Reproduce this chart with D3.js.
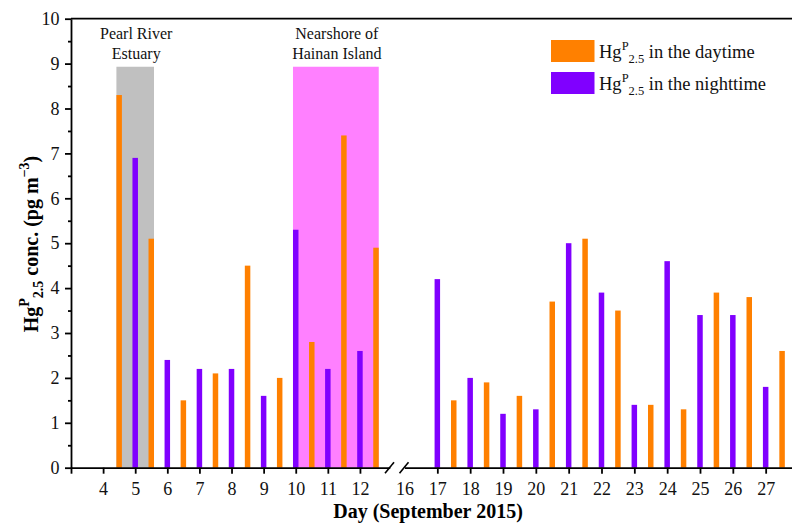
<!DOCTYPE html>
<html>
<head>
<meta charset="utf-8">
<script src="https://cdn.jsdelivr.net/npm/d3@7"></script>
<style>
  body { margin: 0; background: #fff; }
  svg { display: block; }
  svg text { font-family: "Liberation Serif", "Times New Roman", Times, serif; }
  .axis path, .axis line { stroke: #000; stroke-width: 1.8; }
  .axis text { font-size: 18px; fill: #111; }
</style>
</head>
<body>
<script>
'use strict';

// daytime samples sit half way through each day
const dayTimes = [4.5, 5.5, 6.5, 7.5, 8.5, 9.5, 10.5, 11.5, 12.5,
  17.5, 18.5, 19.5, 20.5, 21.5, 22.5, 23.5, 24.5, 25.5, 26.5, 27.5];
const dayValues = [8.3, 5.1, 1.5, 2.1, 4.5, 2.0, 2.8, 7.4, 4.9,
  1.5, 1.9, 1.6, 3.7, 5.1, 3.5, 1.4, 1.3, 3.9, 3.8, 2.6];

// nighttime samples
const nightTimes = [5, 6, 7, 8, 9, 10, 11, 12,
  17, 18, 19, 20, 21, 22, 23, 24, 25, 26, 27];
const nightValues = [6.9, 2.4, 2.2, 2.2, 1.6, 5.3, 2.2, 2.6,
  4.2, 2.0, 1.2, 1.3, 5.0, 3.9, 1.4, 4.6, 3.4, 3.4, 1.8];

// shaded cruise regions
const regionStarts = [4.5, 10];
const regionEnds = [5.5, 12.5];
const regionTop = 8.93;
const regionColors = ["#c0c0c0", "#ff80ff"];
const regionLabels = [["Pearl River", "Estuary"], ["Nearshore of", "Hainan Island"]];

// tick labels
const leftTicks = [3, 4, 5, 6, 7, 8, 9, 10, 11, 12];
const rightTicks = [16, 17, 18, 19, 20, 21, 22, 23, 24, 25, 26, 27];
const yTicks = [0, 1, 2, 3, 4, 5, 6, 7, 8, 9, 10];
const yMinor = [0.5, 1.5, 2.5, 3.5, 4.5, 5.5, 6.5, 7.5, 8.5, 9.5];

const dayColor = "#ff8000";
const nightColor = "#8000ff";
const serif = '"Liberation Serif", "Times New Roman", Times, serif';

(function() {
  let svg = "";
  let barW = 5.5;

  window.onload = function() {
    svg = d3.select("body")
      .append("svg")
      .attr("width", 792)
      .attr("height", 528);

    // y scale and two x scales either side of the axis break
    let y = d3.scaleLinear().domain([0, 10]).range([467.7, 18.7]);
    let xL = d3.scaleLinear().domain([3, 12.93]).range([71, 389.8]);
    let xR = d3.scaleLinear().domain([16, 27.79]).range([404.5, 791.6]);
    let xOf = (d) => d < 14 ? xL(d) : xR(d);

    // shaded regions
    regionStarts.forEach((s, i) => {
      let x0 = xOf(s) - barW / 2;
      let x1 = xOf(regionEnds[i]) + barW / 2;
      svg.append("rect")
        .attr("x", x0)
        .attr("y", y(regionTop))
        .attr("width", x1 - x0)
        .attr("height", y(0) - y(regionTop))
        .attr("fill", regionColors[i]);

      regionLabels[i].forEach((t, j) => {
        svg.append("text")
          .attr("x", (x0 + x1) / 2 + 1)
          .attr("y", 38.5 + j * 20)
          .attr("text-anchor", "middle")
          .style("font-family", serif)
          .style("font-size", "16px")
          .attr("fill", "#111")
          .text(t);
      });
    });

    // bars
    let dayData = dayTimes.map((d, i) => ({t: d, v: dayValues[i]}));
    let nightData = nightTimes.map((d, i) => ({t: d, v: nightValues[i]}));

    svg.selectAll(".day")
      .data(dayData)
      .enter().append("rect")
        .attr("class", "day")
        .attr("x", (d) => xOf(d.t) - barW / 2)
        .attr("y", (d) => y(d.v))
        .attr("width", barW)
        .attr("height", (d) => y(0) - y(d.v))
        .attr("fill", dayColor);

    svg.selectAll(".night")
      .data(nightData)
      .enter().append("rect")
        .attr("class", "night")
        .attr("x", (d) => xOf(d.t) - barW / 2)
        .attr("y", (d) => y(d.v))
        .attr("width", barW)
        .attr("height", (d) => y(0) - y(d.v))
        .attr("fill", nightColor);

    // y axis with minor ticks
    svg.append("g")
      .attr("class", "axis")
      .attr("transform", "translate(71,0)")
      .call(d3.axisLeft(y).tickValues(yTicks).tickSize(6).tickSizeOuter(0).tickPadding(5.5));

    svg.append("g")
      .attr("class", "axis")
      .attr("transform", "translate(71,0)")
      .call(d3.axisLeft(y).tickValues(yMinor).tickSize(3).tickFormat(""))
      .select(".domain").remove();

    // top frame line
    svg.append("line")
      .attr("x1", 71).attr("x2", 792)
      .attr("y1", y(10)).attr("y2", y(10))
      .attr("stroke", "#000")
      .attr("stroke-width", 1.8);

    // x axis, left part
    svg.append("g")
      .attr("class", "axis")
      .attr("transform", "translate(0," + y(0) + ")")
      .call(d3.axisBottom(xL).tickValues(leftTicks).tickSize(6).tickSizeOuter(0).tickPadding(8.5)
        .tickFormat((d) => d === 3 ? "" : d));

    // x axis, right part (no tick under 16, it sits in the break)
    let gR = svg.append("g")
      .attr("class", "axis")
      .attr("transform", "translate(0," + y(0) + ")")
      .call(d3.axisBottom(xR).tickValues(rightTicks).tickSize(6).tickSizeOuter(0).tickPadding(8.5));
    gR.selectAll(".tick").filter((d) => d === 16).select("line").remove();

    // force the serif face on all tick labels
    svg.selectAll(".axis").attr("font-family", serif);
    svg.selectAll(".axis text").style("font-family", serif);

    // break marks
    [389.5, 404].forEach((bx) => {
      svg.append("line")
        .attr("x1", bx - 4.5).attr("y1", y(0) + 5.5)
        .attr("x2", bx + 4.5).attr("y2", y(0) - 5.5)
        .attr("stroke", "#000")
        .attr("stroke-width", 1.6);
    });
    svg.append("rect")
      .attr("x", 392.5).attr("y", y(0) - 2)
      .attr("width", 8).attr("height", 4)
      .attr("fill", "#fff");

    // axis titles
    svg.append("text")
      .attr("x", 428)
      .attr("y", 518)
      .attr("text-anchor", "middle")
      .style("font-family", serif)
      .style("font-size", "20px")
      .style("font-weight", "bold")
      .text("Day (September 2015)");

    let yl = svg.append("text")
      .attr("transform", "translate(38,244)rotate(-90)")
      .attr("text-anchor", "middle")
      .style("font-family", serif)
      .style("font-size", "20px")
      .style("font-weight", "bold");
    yl.append("tspan").text("Hg");
    yl.append("tspan").attr("dy", -9).style("font-size", "14px").text("P");
    yl.append("tspan").attr("dy", 14).style("font-size", "14px").text("2.5");
    yl.append("tspan").attr("dy", -5).text(" conc. (pg m");
    yl.append("tspan").attr("dy", -9).style("font-size", "14px").text("\u22123");
    yl.append("tspan").attr("dy", 9).text(")");

    // legend
    let legend = [
      {c: dayColor, t: " in the daytime"},
      {c: nightColor, t: " in the nighttime"}
    ];
    legend.forEach((l, i) => {
      svg.append("rect")
        .attr("x", 551)
        .attr("y", 40 + i * 32)
        .attr("width", 43.5)
        .attr("height", 22)
        .attr("fill", l.c);

      let lt = svg.append("text")
        .attr("x", 599)
        .attr("y", 58 + i * 32)
        .style("font-family", serif)
        .style("font-size", "18.5px")
        .attr("fill", "#111");
      lt.append("tspan").text("Hg");
      lt.append("tspan").attr("dy", -8).style("font-size", "12.5px").text("P");
      lt.append("tspan").attr("dy", 13).style("font-size", "12.5px").text("2.5");
      lt.append("tspan").attr("dy", -5).text(l.t);
    });
  }
})();
</script>
</body>
</html>
